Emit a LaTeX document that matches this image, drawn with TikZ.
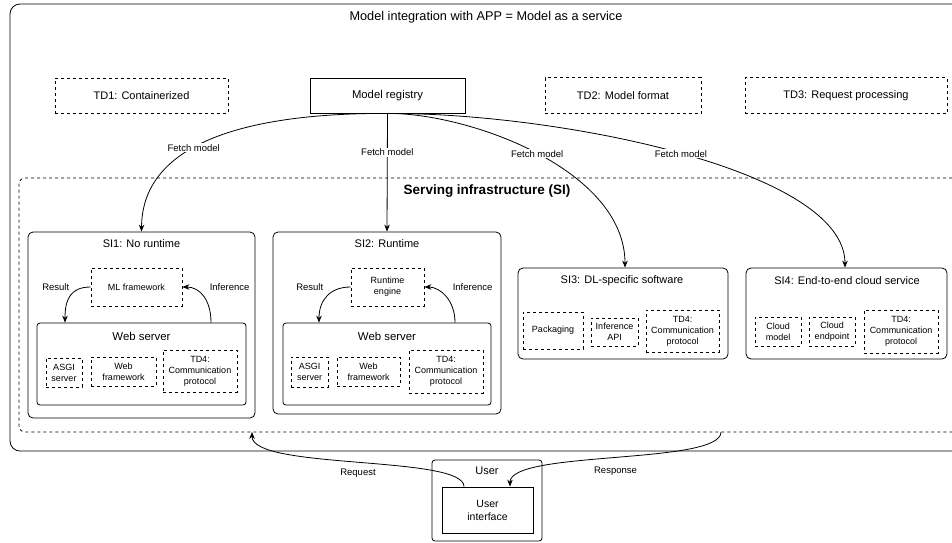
\documentclass[tikz,border=0pt]{standalone}
\usepackage{fontspec}
\setmainfont{Liberation Sans}
\usetikzlibrary{arrows.meta}

\begin{document}
\begin{tikzpicture}[x=1pt, y=-1pt, >={Stealth[length=7pt,width=5.5pt]}, line width=0.8pt,
    box/.style={draw, rectangle, inner sep=0pt, align=center},
    tdbox/.style={box, dashed, font=\fontsize{11}{13}\selectfont},
    part/.style={box, dashed, font=\fontsize{9}{11}\selectfont},
    frame/.style={box, rounded corners=5pt},
    heading/.style={font=\fontsize{11}{13}\selectfont},
    lbl/.style={font=\fontsize{9.5}{11}\selectfont, fill=white, inner sep=1pt},
    flow/.style={->}]

    \useasboundingbox (0,0) rectangle (952,542);
    \clip (0,0) rectangle (952,542);

    % outer frame and top row
    \node[box, rounded corners=10pt, minimum width=960, minimum height=447] (app) at (490,227.5) {};
    \node[font=\fontsize{12.7}{15}\selectfont] (apptitle) at (486,17) {Model integration with APP = Model as a service};

    \node[tdbox, minimum width=173, minimum height=35] (td1) at (141.5,95.5) {TD1: Containerized};
    \node[box, font=\fontsize{11.3}{13}\selectfont, minimum width=155, minimum height=35] (reg) at (387.5,95.5) {Model registry};
    \node[tdbox, minimum width=156, minimum height=36] (td2) at (623,95.5) {TD2: Model format};
    \node[tdbox, minimum width=202, minimum height=36] (td3) at (846,95.5) {TD3: Request processing};

    % serving infrastructure
    \node[box, dashed, rounded corners=6pt, minimum width=951, minimum height=254] (si) at (494.5,305) {};
    \node[font=\fontsize{13.5}{15}\selectfont\bfseries] (sititle) at (487,191) {Serving infrastructure (SI)};

    % SI1
    \node[frame, minimum width=227, minimum height=186] (si1) at (141.5,325) {};
    \node[heading] (si1title) at (141.5,244) {SI1: No runtime};
    \node[part, minimum width=91, minimum height=38] (ml1) at (136.5,287) {ML framework};
    \node[frame, rounded corners=3pt, minimum width=209, minimum height=82] (ws1) at (141.5,364) {};
    \node[heading, font=\fontsize{11.4}{13}\selectfont] (ws1title) at (141.5,336) {Web server};
    \node[part, minimum width=36, minimum height=29] (asgi1) at (64,372.5) {ASGI\\server};
    \node[part, minimum width=65, minimum height=29] (wf1) at (123.5,371.5) {Web\\framework};
    \node[part, minimum width=74, minimum height=42] (td4a) at (200,371) {TD4:\\Communication\\protocol};

    % SI2
    \node[frame, minimum width=228, minimum height=182] (si2) at (387,323) {};
    \node[heading] (si2title) at (387,244) {SI2: Runtime};
    \node[part, minimum width=73, minimum height=38] (rt2) at (387.5,287) {Runtime\\engine};
    \node[frame, rounded corners=3pt, minimum width=208, minimum height=82] (ws2) at (387,364) {};
    \node[heading, font=\fontsize{11.4}{13}\selectfont] (ws2title) at (387,336) {Web server};
    \node[part, minimum width=37, minimum height=30] (asgi2) at (309.5,372) {ASGI\\server};
    \node[part, minimum width=63, minimum height=29] (wf2) at (368.5,371.5) {Web\\framework};
    \node[part, minimum width=74, minimum height=43] (td4b) at (446,371.5) {TD4:\\Communication\\protocol};

    % SI3
    \node[frame, minimum width=210, minimum height=91] (si3) at (623,313.5) {};
    \node[heading] (si3title) at (622,281) {SI3: DL-specific software};
    \node[part, minimum width=60, minimum height=37] (pack) at (553,330.5) {Packaging};
    \node[part, minimum width=47, minimum height=28] (iapi) at (614.5,332) {Inference\\API};
    \node[part, minimum width=73, minimum height=42] (td4c) at (682.5,331) {TD4:\\Communication\\protocol};

    % SI4
    \node[frame, minimum width=201, minimum height=91] (si4) at (846.5,313.5) {};
    \node[heading] (si4title) at (847,281) {SI4: End-to-end cloud service};
    \node[part, minimum width=46, minimum height=29] (cmod) at (778,331.5) {Cloud\\model};
    \node[part, minimum width=46, minimum height=29] (cend) at (832,331.5) {Cloud\\endpoint};
    \node[part, minimum width=74, minimum height=43] (td4d) at (901,331.5) {TD4:\\Communication\\protocol};

    % user
    \node[frame, rounded corners=3pt, minimum width=110, minimum height=81] (user) at (487,500.5) {};
    \node[heading] (usertitle) at (487,471) {User};
    \node[box, font=\fontsize{10.5}{13}\selectfont, minimum width=91, minimum height=46] (ui) at (487.5,510) {User\\interface};

    \coordinate (req) at (252,432);
    \coordinate (resp) at (721,432);

    % fetch model
    \draw[flow] (reg.south) .. controls (230,113) and (142,150) .. node[lbl, pos=0.55] {Fetch model} (si1.north);
    \draw[flow] (reg.south) -- node[lbl, pos=0.33] {Fetch model} (si2.north);
    \draw[flow] (reg.south) .. controls (470,113) and (625,170) .. node[lbl, pos=0.5] {Fetch model} (si3.north -| 625,0);
    \draw[flow] (reg.south) .. controls (560,113) and (845,170) .. node[lbl, pos=0.5] {Fetch model} (si4.north -| 845,0);

    % inference loops
    \draw[flow] (ml1.west) .. controls (70,287) and (65,300) .. node[lbl, at start, left=20pt] {Result} (ws1.north -| 65,0);
    \draw[flow] (ws1.north -| 211,0) .. controls (211,300) and (200,287) .. node[lbl, at end, right=26pt] {Inference} (ml1.east);
    \draw[flow] (rt2.west) .. controls (330,287) and (319,300) .. node[lbl, at start, left=26pt] {Result} (ws2.north -| 319,0);
    \draw[flow] (ws2.north -| 455,0) .. controls (455,300) and (440,287) .. node[lbl, at end, right=27pt] {Inference} (rt2.east);

    % request / response
    \draw[flow] (ui.north -| 464,0) .. controls (464,455) and (252,470) .. node[lbl, below=6pt, fill=none] {Request} (req);
    \draw[flow] (resp) .. controls (721,465) and (510,450) .. node[lbl, below=8pt, fill=none] {Response} (ui.north -| 510,0);
\end{tikzpicture}
\end{document}
